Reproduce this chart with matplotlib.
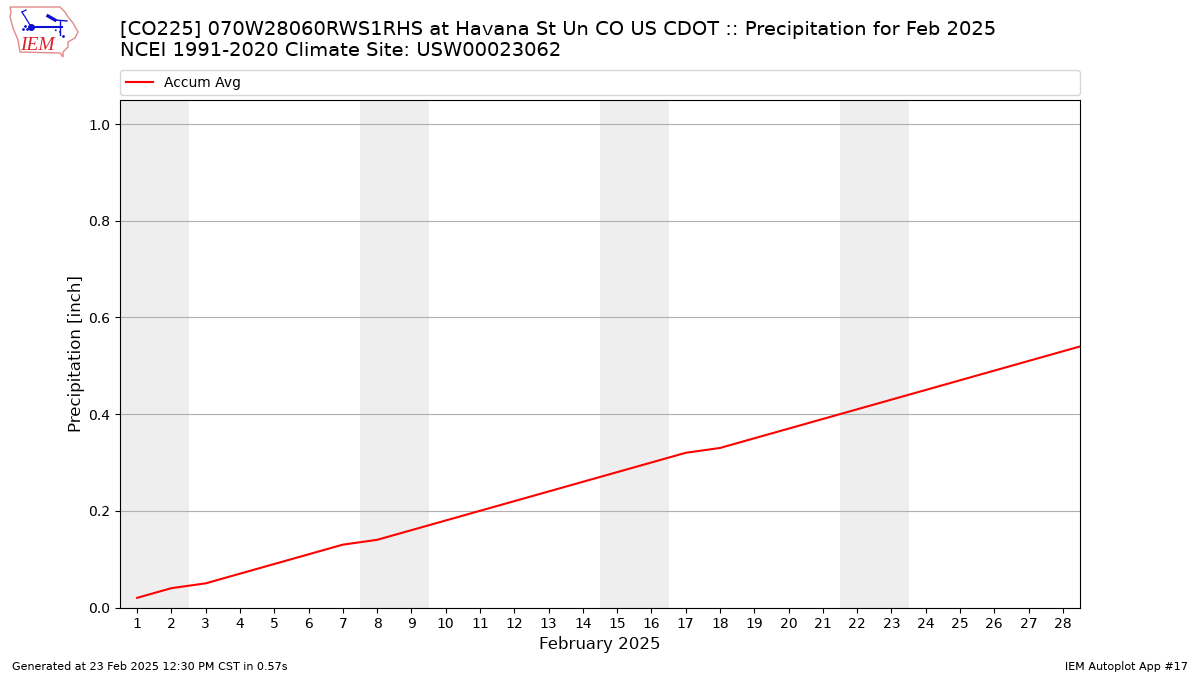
import matplotlib
matplotlib.use("Agg")
import matplotlib.pyplot as plt
from matplotlib.patches import Polygon

plt.rcParams['text.hinting'] = 'default'

days = list(range(1, 30))
accum_avg = [0.02, 0.04, 0.05, 0.07, 0.09, 0.11, 0.13, 0.14, 0.16, 0.18,
             0.20, 0.22, 0.24, 0.26, 0.28, 0.30, 0.32, 0.33, 0.35, 0.37,
             0.39, 0.41, 0.43, 0.45, 0.47, 0.49, 0.51, 0.53, 0.55]
weekends = [(0.5, 2.5), (7.5, 9.5), (14.5, 16.5), (21.5, 23.5)]
xticks = list(range(1, 29))
yticks = [0.0, 0.2, 0.4, 0.6, 0.8, 1.0]
title_lines = ["[CO225] 070W28060RWS1RHS at Havana St Un CO US CDOT :: Precipitation for Feb 2025",
               "NCEI 1991-2020 Climate Site: USW00023062"]

W, H = 1200, 675
fig = plt.figure(figsize=(12, 6.75), dpi=100)
ax = fig.add_axes([120/W, 1-607.5/H, 960/W, 507.6/H])
for a, b in weekends:
    ax.axvspan(a, b, color="#eeeeee", lw=0, zorder=0)
ax.plot(days, accum_avg, color="red", lw=1.5, label="Accum Avg", zorder=3)
ax.set_xlim(0.5, 28.5)
ax.set_ylim(0, 1.05)
ax.set_xticks(xticks)
ax.set_yticks(yticks)
ax.grid(axis="y", color="#b0b0b0", lw=0.8)
ax.set_axisbelow(True)
ax.set_xlabel("February 2025", fontsize=12, labelpad=3.6)
ax.set_ylabel("Precipitation [inch]", fontsize=12, labelpad=2.6)
ax.legend(loc="lower left", bbox_to_anchor=(0, 1.0095, 1, 0.05), mode="expand",
          ncol=1, borderaxespad=0, fontsize=10)

fig.text(120/W, 1-60/H, "\n".join(title_lines), fontsize=14, ha="left", va="bottom", linespacing=1.2)
fig.text(12/W, 1-672/H, "Generated at 23 Feb 2025 12:30 PM CST in 0.57s", fontsize=8, ha="left", va="bottom")
fig.text(1188/W, 1-672/H, "IEM Autoplot App #17", fontsize=8, ha="right", va="bottom")

# logo (pixel coordinate overlay)
lg = fig.add_axes([0, 1-60/H, 90/W, 60/H])
lg.set_xlim(0, 90); lg.set_ylim(60, 0); lg.axis("off")
outline = [(10, 7), (60, 7), (65, 12), (68, 17), (73, 23), (78, 32), (75, 38), (68, 42),
           (68, 47), (63, 52), (63, 57), (60, 53), (20, 52), (18, 40), (13, 28), (10, 17), (11, 12)]
lg.add_patch(Polygon(outline, closed=True, fill=False, ec="#e08a8a", lw=1))
blue = "#1010d0"
lg.plot([31, 62], [26.5, 26.5], color=blue, lw=1.5)
lg.plot([31], [26.5], "o", color=blue, ms=4)
lg.plot([22, 30], [12, 25], color=blue, lw=0.9)
lg.plot([22, 26], [12, 10], color=blue, lw=0.9)
lg.plot([60, 60], [21, 35], color=blue, lw=1)
lg.plot([48, 55], [16, 20], color=blue, lw=2.4)
lg.plot([55, 67], [20, 21], color=blue, lw=1)
lg.plot([55, 63], [30, 33], color=blue, lw=1.2, ls=":")
lg.plot([23, 25, 27], [29, 26, 29], ".", color=blue, ms=2)
lg.plot([63], [36], ".", color=blue, ms=2)
lg.text(20.5, 45, "IEM", color="#d81f2a", fontsize=14, family="Liberation Serif",
        style="italic", ha="left", va="center")

fig.savefig("out.png", dpi=100)
